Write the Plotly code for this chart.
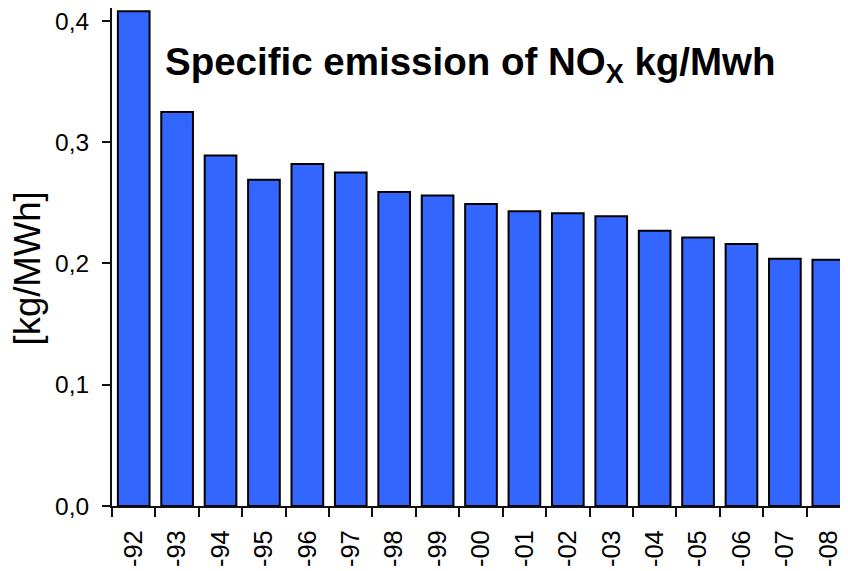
import plotly.graph_objects as go

years = ["-92", "-93", "-94", "-95", "-96", "-97", "-98", "-99", "-00",
         "-01", "-02", "-03", "-04", "-05", "-06", "-07", "-08"]
nox = [0.408, 0.325, 0.289, 0.269, 0.282, 0.275, 0.259, 0.256, 0.249,
       0.243, 0.2415, 0.239, 0.227, 0.2215, 0.216, 0.204, 0.203]
y_ticks = [0.0, 0.1, 0.2, 0.3, 0.4]
y_tick_labels = ["0,0", "0,1", "0,2", "0,3", "0,4"]

FONT = "Liberation Sans, Arial, sans-serif"

fig = go.Figure(go.Bar(
    x=years, y=nox,
    marker=dict(color="#3366FF", line=dict(color="#000000", width=2)),
))

fig.update_layout(
    width=848, height=571,
    margin=dict(l=104, r=6, t=0, b=73, autoexpand=False),
    paper_bgcolor="white", plot_bgcolor="white",
    bargap=0.27,
    showlegend=False,
    font=dict(family=FONT, color="black"),
    xaxis=dict(
        type="category", automargin=False,
        showline=True, linecolor="#111", linewidth=2,
        ticks="outside", tickson="boundaries", ticklen=9, tickwidth=1.5, tickcolor="#111",
        tickangle=-90, tickfont=dict(size=25.5, family=FONT),
        showgrid=False, zeroline=False,
        ticklabelstandoff=12, ticklabeloverflow="allow",
    ),
    yaxis=dict(
        range=[0, 0.4107], automargin=False,
        tickvals=y_ticks, ticktext=y_tick_labels,
        showline=True, linecolor="#111", linewidth=2,
        ticks="outside", ticklen=8, tickwidth=1.5, tickcolor="#111",
        tickfont=dict(size=24.5, family=FONT),
        showgrid=False, zeroline=False,
        ticklabelstandoff=8, ticklabeloverflow="allow",
    ),
    annotations=[
        dict(text="<b>Specific emission of NO<sub>X</sub> kg/Mwh</b>",
             xref="paper", yref="y", x=0.0691, y=0.3645,
             xanchor="left", yanchor="middle", showarrow=False,
             font=dict(size=38.5, family=FONT, color="black")),
        dict(text="[kg/MWh]", textangle=-90,
             xref="paper", yref="y", x=-0.115, y=0.196,
             xanchor="center", yanchor="middle", showarrow=False,
             font=dict(size=36.5, family=FONT, color="black")),
    ],
)

fig.write_html("out.html")
